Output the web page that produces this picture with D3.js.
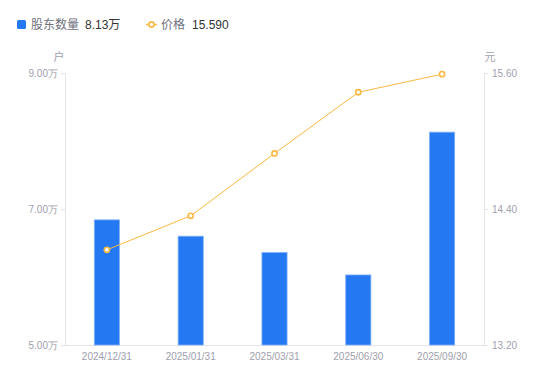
<!DOCTYPE html>
<html>
<head>
<meta charset="utf-8">
<script src="https://cdn.jsdelivr.net/npm/d3@7"></script>
<style>
  body { margin: 0; background: #fff; }
  svg { font-family: "Liberation Sans", Arial, "Noto Sans CJK SC", sans-serif; }
</style>
</head>
<body>
<svg id="chart" width="550" height="381"></svg>
<script>
const dates = ['2024/12/31', '2025/01/31', '2025/03/31', '2025/06/30', '2025/09/30'];
const holders = [6.84, 6.60, 6.36, 6.03, 8.13]; // 万户
const prices = [14.04, 14.34, 14.89, 15.43, 15.59];
const leftTicks = [5, 7, 9];
const rightTicks = [13.2, 14.4, 15.6];

const plotLeft = 65, plotRight = 484, plotTop = 73, plotBottom = 345;
const svg = d3.select('#chart');

const x = d3.scaleBand().domain(dates).range([plotLeft, plotRight]);
const yL = d3.scaleLinear().domain([5, 9]).range([plotBottom, plotTop]);
const yR = d3.scaleLinear().domain([13.2, 15.6]).range([plotBottom, plotTop]);

const axisColor = '#e3e3e8';
const labelColor = '#a0a0ad';

// left axis
const gl = svg.append('g').attr('transform', `translate(${plotLeft},0)`)
  .call(d3.axisLeft(yL).tickValues(leftTicks).tickSize(4).tickPadding(3).tickFormat(d => d3.format('.2f')(d) + '万'));
// right axis
const gr = svg.append('g').attr('transform', `translate(${plotRight},0)`)
  .call(d3.axisRight(yR).tickValues(rightTicks).tickSize(4).tickPadding(4).tickFormat(d3.format('.2f')));
// bottom axis
const gb = svg.append('g').attr('transform', `translate(0,${plotBottom})`)
  .call(d3.axisBottom(x).tickSize(0).tickPadding(8));

[gl, gr, gb].forEach(g => {
  g.select('.domain').attr('stroke', axisColor);
  g.selectAll('.tick line').attr('stroke', axisColor);
  g.selectAll('.tick text').attr('fill', labelColor).style('font-size', '10px');
});
gb.select('.domain').attr('d', `M${plotLeft},0.5H${plotRight}`);

// units
svg.append('text').attr('x', 59).attr('y', 61).attr('text-anchor', 'middle')
  .attr('fill', labelColor).style('font-size', '11px').text('户');
svg.append('text').attr('x', 490).attr('y', 61).attr('text-anchor', 'middle')
  .attr('fill', labelColor).style('font-size', '11px').text('元');

// bars
const bw = x.bandwidth() * 0.3;
svg.append('g').selectAll('rect').data(holders).join('rect')
  .attr('x', (d, i) => x(dates[i]) + (x.bandwidth() - bw) / 2)
  .attr('y', d => yL(d))
  .attr('width', bw)
  .attr('height', d => plotBottom - yL(d))
  .attr('fill', '#2478f2')
  .attr('stroke', '#7fb0f8')
  .attr('stroke-width', 0.8);

// price line
const cx = i => x(dates[i]) + x.bandwidth() / 2;
const line = d3.line().x((d, i) => cx(i)).y(d => yR(d));
svg.append('path').datum(prices).attr('d', line)
  .attr('fill', 'none').attr('stroke', '#fbb843').attr('stroke-width', 1);
svg.append('g').selectAll('circle').data(prices).join('circle')
  .attr('cx', (d, i) => cx(i)).attr('cy', d => yR(d)).attr('r', 2.6)
  .attr('fill', '#fff').attr('stroke', '#fbb843').attr('stroke-width', 1.6);

// legend
const lg = svg.append('g').style('font-size', '12px');
lg.append('rect').attr('x', 17).attr('y', 20).attr('width', 9).attr('height', 9).attr('rx', 1.5).attr('fill', '#2478f2');
lg.append('text').attr('x', 31).attr('y', 29).attr('fill', '#70707d').text('股东数量');
lg.append('text').attr('x', 85).attr('y', 29).attr('fill', '#333').text('8.13万');
lg.append('line').attr('x1', 146).attr('x2', 157).attr('y1', 24.5).attr('y2', 24.5).attr('stroke', '#fbb843').attr('stroke-width', 1.5);
lg.append('circle').attr('cx', 151.5).attr('cy', 24.5).attr('r', 2.6).attr('fill', '#fff').attr('stroke', '#fbb843').attr('stroke-width', 1.6);
lg.append('text').attr('x', 161).attr('y', 29).attr('fill', '#70707d').text('价格');
lg.append('text').attr('x', 192).attr('y', 29).attr('fill', '#333').text('15.590');
</script>
</body>
</html>
